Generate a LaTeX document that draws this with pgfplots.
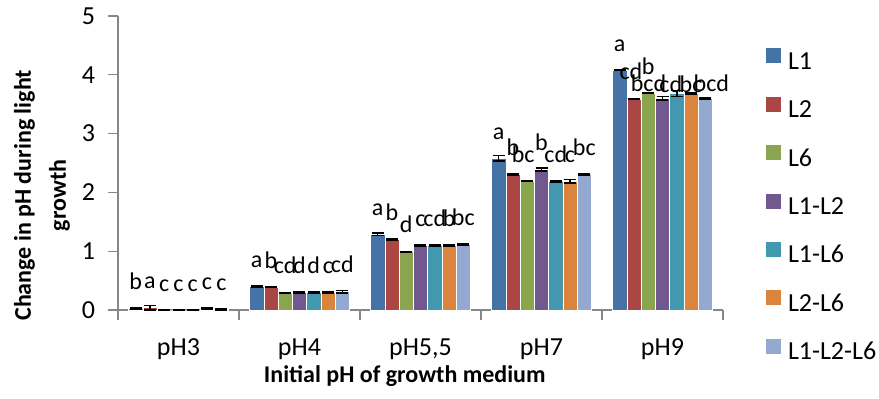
\documentclass[border=0pt]{standalone}
\usepackage{fontspec}
\setmainfont{Carlito}
\usepackage{pgfplots}
\pgfplotsset{compat=1.18}
\usepackage{pgfplotstable}
\definecolor{cA}{HTML}{4572A7}
\definecolor{cB}{HTML}{AA4643}
\definecolor{cC}{HTML}{89A54E}
\definecolor{cD}{HTML}{71588F}
\definecolor{cE}{HTML}{4198AF}
\definecolor{cF}{HTML}{DB843D}
\definecolor{cG}{HTML}{93A9CF}
\definecolor{axgray}{HTML}{878787}
\pgfplotsset{sw/.style={legend image code/.code={\fill[##1,draw=none] (0pt,0pt) rectangle (7.5pt,7.5pt);}}}

\pgfplotstableread{
x y e lab dx dy
0 0.03 0.015 b 0 9.5
1 0.40 0.01 a 0 9.5
2 1.29 0.02 a 0 9.5
3 2.58 0.05 a 0 9.5
4 4.08 0.01 a 0 9.5
}\tA
\pgfplotstableread{
x y e lab dx dy
0 0.04 0.04 a 0 9.5
1 0.39 0.01 b 0 9.5
2 1.20 0.01 b 0 9.5
3 2.30 0.01 b 0 9.5
4 3.59 0.01 cd -1.5 9.5
}\tB
\pgfplotstableread{
x y e lab dx dy
0 0.00 0 c 0 9.5
1 0.29 0 cd 0 9.5
2 0.99 0 d 0 9.5
3 2.19 0 bc -2 9.5
4 3.69 0 b 0 9.5
}\tC
\pgfplotstableread{
x y e lab dx dy
0 0.00 0 c 0 9.5
1 0.30 0.01 d 0 9.5
2 1.10 0.01 c 0 9.5
3 2.39 0.03 b 0 9.5
4 3.60 0.03 bcd -7 3.2
}\tD
\pgfplotstableread{
x y e lab dx dy
0 0.00 0 c 0 9.5
1 0.30 0.01 d 0 9.5
2 1.10 0.01 cd 0 9.5
3 2.19 0.01 cd 0 9.5
4 3.68 0.05 cd -3 0.8
}\tE
\pgfplotstableread{
x y e lab dx dy
0 0.02 0.01 c 0 9.5
1 0.30 0.01 c 0 9.5
2 1.10 0.01 b 0 9.5
3 2.19 0.03 c 0 9.5
4 3.68 0.01 bc 0 0.8
}\tF
\pgfplotstableread{
x y e lab dx dy
0 0.01 0.005 c 0 9.5
1 0.31 0.02 cd 0 9.5
2 1.11 0.01 bc 0 9.5
3 2.30 0.01 bc 0 9.5
4 3.60 0.01 bcd 3 3.2
}\tG

\begin{document}
\begin{tikzpicture}[font=\fontsize{12}{14.4}\selectfont]
\begin{axis}[
  at={(59pt,44pt)}, anchor=south west,
  scale only axis, width=302.5pt, height=147pt,
  xmin=-0.5, xmax=4.5, ymin=0, ymax=5,
  axis lines*=left,
  axis line style={draw=axgray, line width=0.6pt},
  tick align=outside, major tick length=5pt,
  tick style={draw=axgray, line width=0.6pt},
  ytick={0,1,2,3,4,5},
  /pgf/number format/assume math mode=true,
  yticklabel style={font=\fontsize{13}{15}\selectfont, black, xshift=-3pt},
  xtick={-0.5,0.5,1.5,2.5,3.5,4.5}, xticklabels={},
  extra x ticks={0,1,2,3,4},
  extra x tick labels={pH3,pH4,{pH5,5},pH7,pH9},
  extra x tick style={major tick length=0pt, xticklabel style={anchor=base, yshift=-22.5pt, font=\fontsize{13}{15}\selectfont}},
  xlabel={Initial pH of growth medium},
  xlabel style={font=\fontsize{12}{14.4}\selectfont\bfseries, at={(axis description cs:0.474,-0.248)}, anchor=base},
  ylabel={Change in pH during light\\growth},
  ylabel style={align=center, font=\fontsize{12}{17.5}\selectfont\bfseries, at={(axis description cs:-0.1256,0.39)}, anchor=center},
  ybar=0pt, bar width=0.118,
  nodes near coords, point meta=explicit symbolic,
  visualization depends on={\thisrow{dx} \as \mydx},
  visualization depends on={\thisrow{dy} \as \mydy},
  every node near coord/.append style={anchor=base, inner sep=0pt, xshift=\mydx pt, yshift=\mydy pt, font=\fontsize{12}{14.4}\selectfont, black},
  error bars/y dir=both, error bars/y explicit,
  error bars/error mark=|,
  error bars/error bar style={black, line width=0.8pt},
  error bars/error mark options={black, line width=0.8pt, mark size=3pt},
  legend style={at={(axis description cs:1.0711,0.89)}, anchor=north west, draw=none, fill=none, inner sep=0pt, outer sep=0pt,
    /tikz/row sep=11.2pt, /tikz/column sep=3.5pt,
    nodes={inner sep=0pt, text height=8.5pt, text depth=2.5pt}, font=\fontsize{13}{15}\selectfont},
  legend cell align=left,
]
\addplot[fill=cA, draw=white, line width=0.3pt, sw] table[x=x,y=y,y error=e,meta=lab]{\tA};
\addplot[fill=cB, draw=white, line width=0.3pt, sw] table[x=x,y=y,y error=e,meta=lab]{\tB};
\addplot[fill=cC, draw=white, line width=0.3pt, sw] table[x=x,y=y,y error=e,meta=lab]{\tC};
\addplot[fill=cD, draw=white, line width=0.3pt, sw] table[x=x,y=y,y error=e,meta=lab]{\tD};
\addplot[fill=cE, draw=white, line width=0.3pt, sw] table[x=x,y=y,y error=e,meta=lab]{\tE};
\addplot[fill=cF, draw=white, line width=0.3pt, sw] table[x=x,y=y,y error=e,meta=lab]{\tF};
\addplot[fill=cG, draw=white, line width=0.3pt, sw] table[x=x,y=y,y error=e,meta=lab]{\tG};
\legend{L1,L2,L6,L1-L2,L1-L6,L2-L6,L1-L2-L6}
\end{axis}
\pgfresetboundingbox
\path (0,0) rectangle (439.5pt,199pt);
\end{tikzpicture}
\end{document}
